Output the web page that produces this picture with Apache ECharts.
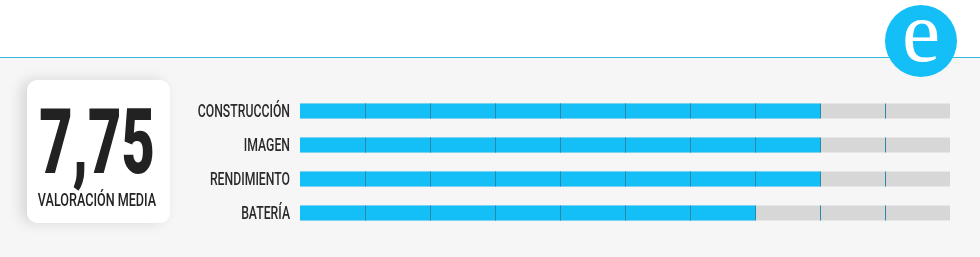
<!DOCTYPE html>
<html><head><meta charset="utf-8">
<script src="https://cdn.jsdelivr.net/npm/echarts@6/dist/echarts.min.js"></script>
<style>html,body{margin:0;padding:0;background:#fff}#c{width:980px;height:257px}</style>
</head><body><div id="c"></div>
<script>
const categories = ['CONSTRUCCIÓN', 'IMAGEN', 'RENDIMIENTO', 'BATERÍA'];
const values = [8, 8, 8, 7];
const maxScore = 10;
const tickValues = [1, 2, 3, 4, 5, 6, 7, 8, 9];
const scoreText = '7,75';
const scoreLabel = 'VALORACIÓN MEDIA';
const logoText = 'e';

const chart = echarts.init(document.getElementById('c'), null, {renderer: 'canvas'});
const BLUE = '#14bff7';
const tickData = [];
categories.forEach((c, ci) => tickValues.forEach(t => tickData.push([t, ci])));

const option = {
  backgroundColor: '#f6f6f6',
  animation: false,
  grid: {left: 300, right: 30, top: 94, bottom: 27},
  xAxis: {type: 'value', min: 0, max: maxScore, show: false},
  yAxis: {type: 'category', data: categories, inverse: true, axisLine: {show: false}, axisTick: {show: false}, axisLabel: {show: false}},
  series: [
    {type: 'bar', data: values, barWidth: 15, itemStyle: {color: BLUE},
     showBackground: true, backgroundStyle: {color: '#d7d7d7'}},
    {type: 'custom', data: tickData, z: 5,
     renderItem: function (params, api) {
       const p = api.coord([api.value(0), api.value(1)]);
       return {type: 'line', shape: {x1: Math.round(p[0]) + 0.5, y1: p[1] - 7.5, x2: Math.round(p[0]) + 0.5, y2: p[1] + 7.5},
               style: {stroke: '#2a89aa', lineWidth: 1}};
     }}
  ]
};
chart.setOption(option);

const labelGraphics = categories.map((c, i) => {
  const p = chart.convertToPixel({gridIndex: 0}, [0, i]);
  return {type: 'text', x: 290, y: p[1] + 1, scaleX: 0.68, z: 10,
          style: {text: c, font: '500 18px Roboto', fill: '#2a2a2a', align: 'right', verticalAlign: 'middle'}};
});

chart.setOption({graphic: [
  {type: 'rect', shape: {x: 0, y: 0, width: 980, height: 57}, style: {fill: '#ffffff'}, z: 1},
  {type: 'rect', shape: {x: 0, y: 57, width: 980, height: 1}, style: {fill: '#38b8e0'}, z: 2},
  {type: 'circle', shape: {cx: 921, cy: 41, r: 36}, style: {fill: BLUE}, z: 3},
  {type: 'text', x: 921, y: 38, z: 4, style: {text: logoText, font: '86px "Liberation Serif"', fill: '#ffffff', align: 'center', verticalAlign: 'middle'}},
  {type: 'rect', shape: {x: 27, y: 80, width: 143, height: 143, r: 10}, z: 3,
   style: {fill: '#ffffff', shadowBlur: 14, shadowOffsetX: -6, shadowColor: 'rgba(0,0,0,0.13)'}},
  {type: 'text', x: 97, y: 150, scaleX: 0.64, z: 4,
   style: {text: scoreText, font: '900 90px Roboto', fill: '#222222', align: 'center', verticalAlign: 'middle'}},
  {type: 'text', x: 97, y: 201, scaleX: 0.7, z: 4,
   style: {text: scoreLabel, font: '500 18px Roboto', fill: '#222222', align: 'center', verticalAlign: 'middle'}}
].concat(labelGraphics)});
</script></body></html>
